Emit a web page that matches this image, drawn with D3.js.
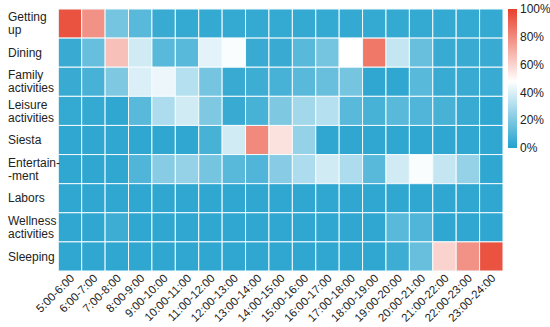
<!DOCTYPE html>
<html><head><meta charset="utf-8">
<script src="https://cdn.jsdelivr.net/npm/d3@7"></script>
<style>body{margin:0;background:#fff}svg{display:block;font-family:"Liberation Sans",Arial,sans-serif}</style>
</head><body><svg id="c" width="550" height="327"></svg>
<script>
const timeSlots = ["5:00-6:00","6:00-7:00","7:00-8:00","8:00-9:00","9:00-10:00","10:00-11:00","11:00-12:00","12:00-13:00","13:00-14:00","14:00-15:00","15:00-16:00","16:00-17:00","17:00-18:00","18:00-19:00","19:00-20:00","20:00-21:00","21:00-22:00","22:00-23:00","23:00-24:00"];
const activities = [["Getting","up"],["Dining"],["Family","activities"],["Leisure","activities"],["Siesta"],["Entertain-","-ment"],["Labors"],["Wellness","activities"],["Sleeping"]];
const gettingUp     = [95,78,18,12,5,4,4,4,4,4,4,4,4,4,4,4,4,4,4];
const dining        = [5,15,65,38,12,12,42,47,5,5,12,18,48,85,35,15,5,5,5];
const family        = [5,8,20,40,44,32,18,5,6,8,12,15,18,3,3,12,5,5,5];
const leisure       = [4,4,3,12,30,38,20,5,8,20,28,32,12,8,12,10,8,5,3];
const siesta        = [3,3,3,3,3,3,8,38,80,56,25,3,3,3,3,3,3,3,3];
const entertainment = [3,3,3,10,22,25,18,12,10,22,30,38,30,12,38,47,35,25,3];
const labors        = [3,3,3,3,3,3,3,3,3,3,3,3,3,3,3,3,3,3,3];
const wellness      = [3,3,6,3,3,3,3,3,3,3,3,3,3,3,12,10,3,3,3];
const sleeping      = [3,3,3,3,3,3,3,3,3,3,3,3,3,3,6,15,60,78,95];
const colorTicks = [0,20,40,60,80,100];

const series = [gettingUp,dining,family,leisure,siesta,entertainment,labors,wellness,sleeping];
const svg = d3.select("#c");
const x = d3.scaleBand().domain(timeSlots).range([58.3, 503]).padding(0);
const y = d3.scaleBand().domain(d3.range(activities.length)).range([9, 271]).padding(0);
const color = d3.scaleLinear().domain([0,48,100]).range(["#22a1ce","#ffffff","#e8412c"]);

const cells = [];
series.forEach((s,i)=>s.forEach((v,j)=>cells.push({r:i,c:timeSlots[j],v})));
svg.append("g").selectAll("rect").data(cells).join("rect")
  .attr("x",d=>x(d.c)).attr("y",d=>y(d.r))
  .attr("width",x.bandwidth()).attr("height",y.bandwidth())
  .attr("fill",d=>color(d.v)).attr("stroke","#f4fbfd").attr("stroke-width",1);

// y labels
const yl = svg.append("g").attr("font-size",12).attr("fill","#222");
activities.forEach((lines,i)=>{
  const cy = y(i)+y.bandwidth()/2;
  const t = yl.append("text").attr("y",cy - (lines.length-1)*6.5);
  lines.forEach((l,k)=>t.append("tspan").attr("x",8).attr("dy",k===0?"0.35em":"1.08em").text(l));
});

// x labels
const xl = svg.append("g").attr("font-size",11.5).attr("fill","#222");
timeSlots.forEach(s=>{
  const cx = x(s)+x.bandwidth()/2;
  xl.append("text").attr("text-anchor","end")
    .attr("transform",`translate(${cx+5},${279}) rotate(-45)`).text(s);
});

// colorbar
const cb = d3.scaleLinear().domain([0,100]).range([148,9]);
const defs = svg.append("defs");
const grad = defs.append("linearGradient").attr("id","g").attr("x1",0).attr("y1",1).attr("x2",0).attr("y2",0);
[0,48,100].forEach(v=>grad.append("stop").attr("offset",v+"%").attr("stop-color",color(v)));
svg.append("rect").attr("x",508).attr("y",cb(100)).attr("width",9).attr("height",cb(0)-cb(100)).attr("fill","url(#g)");
const ct = svg.append("g").attr("font-size",12).attr("fill","#222");
colorTicks.forEach(t=>ct.append("text").attr("x",520).attr("y",cb(t)).attr("dy","0.35em").text(t+"%"));
</script></body></html>
